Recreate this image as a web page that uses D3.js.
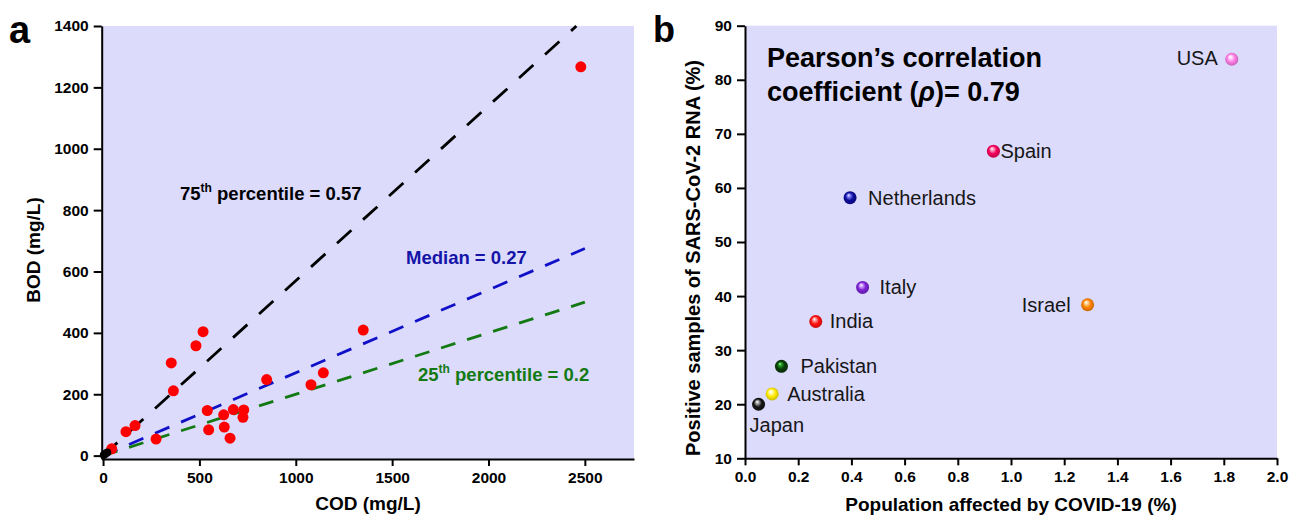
<!DOCTYPE html>
<html>
<head>
<meta charset="utf-8">
<script src="https://cdn.jsdelivr.net/npm/d3@7"></script>
<style>
  body { margin: 0; background: #fff; }
  svg text { font-family: "Liberation Sans", Arial, sans-serif; }
  .axis path, .axis line { stroke: #000; stroke-width: 2; }
  .axis text { font-size: 15.5px; font-weight: bold; fill: #000; }
</style>
</head>
<body>
<div id="chart"></div>
<script>
// ---- panel a data: COD vs BOD (mg/L)
var codVals = [45, 119, 166, 275, 354, 365, 482, 519, 541, 548, 626, 629, 659, 676, 730, 726, 849, 1079, 1143, 1350, 2479];
var bodVals = [22, 78, 98, 54, 302, 211, 358, 404, 147, 84, 133, 93, 57, 150, 149, 125, 248, 231, 270, 409, 1267];
var codLow = [4, 12, 22];
var bodLow = [2, 6, 10];
var ratioNames = ["75th", "Median", "25th"];
var ratioVals = [0.57, 0.27, 0.2];
var codTicks = [0, 500, 1000, 1500, 2000, 2500];
var bodTicks = [0, 200, 400, 600, 800, 1000, 1200, 1400];

// ---- panel b data: countries
var countries = ["USA", "Spain", "Netherlands", "Italy", "India", "Pakistan", "Australia", "Japan", "Israel"];
var affected = [1.83, 0.934, 0.395, 0.442, 0.266, 0.137, 0.102, 0.051, 1.288];
var positive = [83.8, 66.8, 58.2, 41.6, 35.3, 27.0, 21.9, 20.0, 38.4];
var popTicks = [0, 0.2, 0.4, 0.6, 0.8, 1.0, 1.2, 1.4, 1.6, 1.8, 2.0];
var posTicks = [10, 20, 30, 40, 50, 60, 70, 80, 90];

var svg = d3.select("#chart").append("svg")
    .attr("width", 1289)
    .attr("height", 520);

var bg = "#dcdbfb";

// =============== panel a ===============
var xA = d3.scaleLinear().domain([-7, 2755]).range([101.7, 634]);
var yA = d3.scaleLinear().domain([-11, 1400]).range([459, 26]);

svg.append("rect")
    .attr("x", xA.range()[0]).attr("y", yA.range()[1])
    .attr("width", xA.range()[1] - xA.range()[0])
    .attr("height", yA.range()[0] - yA.range()[1])
    .attr("fill", bg);

// fit lines  BOD = k * COD
var lineColors = ["#000000", "#1010c8", "#137a13"];
ratioVals.forEach(function(k, i) {
    var xEnd = Math.min(2500, 1400 / k);
    var x1 = xA(0), y1 = yA(0), x2 = xA(xEnd), y2 = yA(k * xEnd);
    var len = Math.sqrt((x2 - x1) * (x2 - x1) + (y2 - y1) * (y2 - y1));
    var period = 26 * len / (x2 - x1);
    svg.append("line")
        .attr("x1", x1).attr("y1", y1)
        .attr("x2", x2).attr("y2", y2)
        .attr("stroke", lineColors[i])
        .attr("stroke-width", 2.8)
        .attr("stroke-dasharray", (period * 0.55) + "," + (period * 0.45));
});

// points
svg.append("g").selectAll("circle")
    .data(codVals)
    .enter().append("circle")
    .attr("cx", function(d) { return xA(d); })
    .attr("cy", function(d, i) { return yA(bodVals[i]); })
    .attr("r", 5.5)
    .attr("fill", "#ff0000");

svg.append("g").selectAll("circle")
    .data(codLow)
    .enter().append("circle")
    .attr("cx", function(d) { return xA(d); })
    .attr("cy", function(d, i) { return yA(bodLow[i]); })
    .attr("r", 4)
    .attr("fill", "#000");

// axes
svg.append("g")
    .attr("class", "axis")
    .attr("transform", "translate(0," + yA.range()[0] + ")")
    .call(d3.axisBottom(xA).tickValues(codTicks).tickFormat(d3.format("d")).tickSize(7).tickSizeOuter(0).tickPadding(6));
svg.append("g")
    .attr("class", "axis")
    .attr("transform", "translate(" + xA.range()[0] + ",0)")
    .call(d3.axisLeft(yA).tickValues(bodTicks).tickFormat(d3.format("d")).tickSize(8).tickSizeOuter(0).tickPadding(5));

// fit labels
function ratioLabel(x, y, color, pre, sup, post) {
    var t = svg.append("text")
        .attr("x", x).attr("y", y)
        .attr("fill", color)
        .style("font-size", "18.5px")
        .style("font-weight", "bold");
    t.append("tspan").text(pre);
    if (sup) {
        t.append("tspan").attr("dy", -8).style("font-size", "12px").text(sup);
        t.append("tspan").attr("dy", 8).text(post);
    } else {
        t.append("tspan").text(post);
    }
}
ratioLabel(180, 200, lineColors[0], "75", "th", " percentile = " + ratioVals[0]);
ratioLabel(406, 264, "#1414a8", "Median", "", " = " + ratioVals[1]);
ratioLabel(418, 381, lineColors[2], "25", "th", " percentile = " + ratioVals[2]);

// axis titles
svg.append("text")
    .attr("transform", "translate(40,250) rotate(-90)")
    .attr("text-anchor", "middle")
    .style("font-size", "19px").style("font-weight", "bold")
    .text("BOD (mg/L)");
svg.append("text")
    .attr("x", 368).attr("y", 510)
    .attr("text-anchor", "middle")
    .style("font-size", "19px").style("font-weight", "bold")
    .text("COD (mg/L)");
svg.append("text")
    .attr("x", 9).attr("y", 43)
    .style("font-size", "38px").style("font-weight", "bold")
    .text("a");

// =============== panel b ===============
var xB = d3.scaleLinear().domain([0, 2]).range([745, 1277]);
var yB = d3.scaleLinear().domain([10, 90]).range([458.3, 25.7]);

svg.append("rect")
    .attr("x", xB.range()[0]).attr("y", yB.range()[1])
    .attr("width", xB.range()[1] - xB.range()[0])
    .attr("height", yB.range()[0] - yB.range()[1])
    .attr("fill", bg);

var ballColors = ["#ff7de6", "#f5005c", "#0c0c9c", "#7d22d6", "#ff0f0f", "#0a3a0a", "#ffec00", "#151515", "#ff8200"];
var hiColors = ["#ffe0fa", "#ffb0cc", "#8a8aff", "#d8b0ff", "#ffb0b0", "#22aa22", "#fffbd0", "#bbbbbb", "#ffe0b0"];

var defs = svg.append("defs");
countries.forEach(function(c, i) {
    var g = defs.append("radialGradient")
        .attr("id", "ball" + i)
        .attr("cx", "0.5").attr("cy", "0.5").attr("r", "0.55")
        .attr("fx", "0.38").attr("fy", "0.3");
    g.append("stop").attr("offset", "0%").attr("stop-color", "#ffffff");
    g.append("stop").attr("offset", "18%").attr("stop-color", hiColors[i]);
    g.append("stop").attr("offset", "55%").attr("stop-color", ballColors[i]);
    g.append("stop").attr("offset", "100%").attr("stop-color", d3.color(ballColors[i]).darker(0.8));
});

svg.append("g").selectAll("circle")
    .data(countries)
    .enter().append("circle")
    .attr("cx", function(d, i) { return xB(affected[i]); })
    .attr("cy", function(d, i) { return yB(positive[i]); })
    .attr("r", 6.5)
    .attr("fill", function(d, i) { return "url(#ball" + i + ")"; });

// country labels: [dx, dy, anchor]
var labelPos = {
    "USA": [-14, 6, "end"],
    "Spain": [7, 7, "start"],
    "Netherlands": [18, 7, "start"],
    "Italy": [17, 7, "start"],
    "India": [14, 7, "start"],
    "Pakistan": [19, 7, "start"],
    "Australia": [15, 7, "start"],
    "Japan": [-9, 28, "start"],
    "Israel": [-17, 7, "end"]
};
svg.append("g").selectAll("text")
    .data(countries)
    .enter().append("text")
    .attr("x", function(d, i) { return xB(affected[i]) + labelPos[d][0]; })
    .attr("y", function(d, i) { return yB(positive[i]) + labelPos[d][1]; })
    .attr("text-anchor", function(d) { return labelPos[d][2]; })
    .style("font-size", "20px")
    .attr("fill", "#161616")
    .text(function(d) { return d; });

// axes
svg.append("g")
    .attr("class", "axis")
    .attr("transform", "translate(0," + yB.range()[0] + ")")
    .call(d3.axisBottom(xB).tickValues(popTicks).tickFormat(d3.format(".1f")).tickSize(7).tickSizeOuter(0).tickPadding(6));
svg.append("g")
    .attr("class", "axis")
    .attr("transform", "translate(" + xB.range()[0] + ",0)")
    .call(d3.axisLeft(yB).tickValues(posTicks).tickSize(8).tickSizeOuter(0).tickPadding(5));

// correlation text
var pt = svg.append("text")
    .attr("x", 767).attr("y", 67)
    .style("font-size", "27px").style("font-weight", "bold");
pt.append("tspan").text("Pearson\u2019s correlation");
var pt2 = svg.append("text")
    .attr("x", 767).attr("y", 101)
    .style("font-size", "27px").style("font-weight", "bold");
pt2.append("tspan").text("coefficient (");
pt2.append("tspan").style("font-style", "italic").text("\u03C1");
pt2.append("tspan").text(")= 0.79");

svg.append("text")
    .attr("transform", "translate(700,258) rotate(-90)")
    .attr("text-anchor", "middle")
    .style("font-size", "20px").style("font-weight", "bold")
    .text("Positive samples of SARS-CoV-2 RNA (%)");
svg.append("text")
    .attr("x", 1011).attr("y", 511)
    .attr("text-anchor", "middle")
    .style("font-size", "19px").style("font-weight", "bold")
    .text("Population affected by COVID-19 (%)");
svg.append("text")
    .attr("x", 653).attr("y", 42)
    .style("font-size", "36px").style("font-weight", "bold")
    .text("b");
</script>
</body>
</html>
